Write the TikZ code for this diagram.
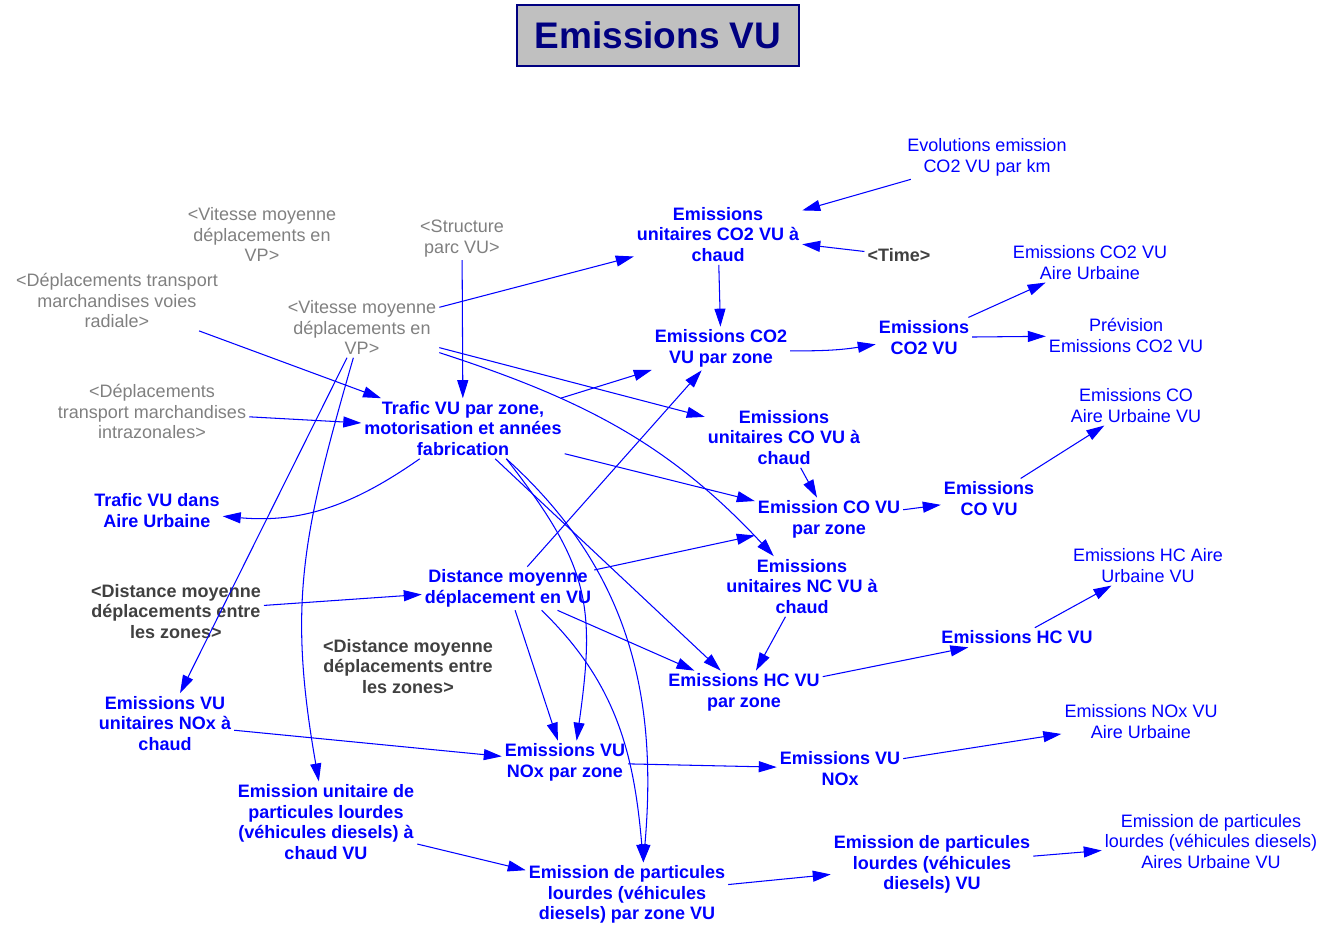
\documentclass[tikz,border=0pt]{standalone}
\usepackage{fontspec}
\setmainfont{Liberation Sans}
\usetikzlibrary{arrows.meta}
\definecolor{vblue}{RGB}{0,0,255}
\definecolor{shadowgray}{RGB}{128,128,128}
\definecolor{shadowdark}{RGB}{64,64,64}
\definecolor{titlenavy}{RGB}{0,0,128}
\definecolor{titlefill}{RGB}{192,192,192}

\begin{document}
\begin{tikzpicture}[x=1pt,y=-1pt,
  lbl/.style={align=center, inner sep=3pt, yshift=-1.5pt},
  var/.style={lbl, text=vblue, font=\fontsize{18}{20.5}\selectfont\bfseries},
  aux/.style={lbl, text=vblue, font=\fontsize{18}{20.5}\selectfont},
  ghost/.style={lbl, text=shadowgray, font=\fontsize{18}{20.5}\selectfont},
  ghostbold/.style={lbl, text=shadowdark, font=\fontsize{18}{20.5}\selectfont\bfseries},
  link/.style={draw=vblue, line width=1.05pt, -{Triangle[length=18pt,width=11pt]}},
  titlebox/.style={draw=titlenavy, line width=1.2pt, fill=titlefill,
    minimum width=282pt, minimum height=61pt, text=titlenavy,
    font=\fontsize{37}{40}\selectfont\bfseries}]

\useasboundingbox (0,0) rectangle (1324,925);

% title
\node[titlebox] (title) at (658,35.5) {Emissions VU};

% variables
\node[aux] (evol) at (987,156) {Evolutions emission\\CO2 VU par km};
\node[var] (uco2) at (718,233) {Emissions\\unitaires CO2 VU à\\chaud};
\node[ghostbold] (time) at (899,254) {\textless Time\textgreater};
\node[ghost] (vp1) at (262,233) {\textless Vitesse moyenne\\déplacements en\\VP\textgreater};
\node[ghost] (struct) at (462,237) {\textless Structure\\parc VU\textgreater};
\node[ghost] (radiale) at (117,299) {\textless Déplacements transport\\marchandises voies\\radiale\textgreater};
\node[ghost] (vp2) at (362,326) {\textless Vitesse moyenne\\déplacements en\\VP\textgreater};
\node[var] (pco2) at (721,347) {Emissions CO2\\VU par zone};
\node[var] (eco2) at (924,336) {Emissions\\CO2 VU};
\node[aux] (aco2) at (1090,261) {Emissions CO2 VU\\Aire Urbaine};
\node[aux] (prev) at (1126,334) {Prévision\\Emissions CO2 VU};
\node[ghost] (intra) at (152,410) {\textless Déplacements\\transport marchandises\\intrazonales\textgreater};
\node[var] (trafic) at (463,427) {Trafic VU par zone,\\motorisation et années\\fabrication};
\node[var] (uco) at (784,436) {Emissions\\unitaires CO VU à\\chaud};
\node[aux] (acoau) at (1136,404) {Emissions CO\\Aire Urbaine VU};
\node[var] (pco) at (829,518) {Emission CO VU\\par zone};
\node[var] (eco) at (989,497) {Emissions\\CO VU};
\node[var] (tvau) at (157,509) {Trafic VU dans\\Aire Urbaine};
\node[var] (unc) at (802,585) {Emissions\\unitaires NC VU à\\chaud};
\node[aux] (hcau) at (1148,564) {Emissions HC Aire\\Urbaine VU};
\node[ghostbold] (dleft) at (176,610) {\textless Distance moyenne\\déplacements entre\\les zones\textgreater};
\node[var] (dist) at (508,587) {Distance moyenne\\déplacement en VU};
\node[var] (ehc) at (1017,636) {Emissions HC VU};
\node[ghostbold] (dmid) at (408,665) {\textless Distance moyenne\\déplacements entre\\les zones\textgreater};
\node[var] (hcz) at (744,691) {Emissions HC VU\\par zone};
\node[var] (unox) at (165,722) {Emissions VU\\unitaires NOx à\\chaud};
\node[aux] (noxau) at (1141,720) {Emissions NOx VU\\Aire Urbaine};
\node[var] (noxz) at (565,761) {Emissions VU\\NOx par zone};
\node[var] (enox) at (840,767) {Emissions VU\\NOx};
\node[var] (upart) at (326,820.5) {Emission unitaire de\\particules lourdes\\(véhicules diesels) à\\chaud VU};
\node[var] (epart) at (932,863) {Emission de particules\\lourdes (véhicules\\diesels) VU};
\node[aux] (apart) at (1211,840) {Emission de particules\\lourdes (véhicules diesels)\\Aires Urbaine VU};
\node[var] (partz) at (627,893) {Emission de particules\\lourdes (véhicules\\diesels) par zone VU};

% CO2 chain
\draw[link] (evol) -- (uco2);
\draw[link] (time) -- (uco2);
\draw[link] (vp2) -- (uco2);
\draw[link] (uco2) -- (pco2);
\draw[link] (pco2) to[bend right=5] (eco2);
\draw[link] (eco2) -- (aco2);
\draw[link] (eco2) -- (prev);

% traffic
\draw[link] (struct) -- (trafic);
\draw[link] (radiale) -- (trafic);
\draw[link] (intra) -- (trafic);
\draw[link] (trafic) -- (pco2);
\draw[link] (trafic) to[out=215,in=-5] (tvau);
\draw[link] (trafic) -- (pco);
\draw[link] (trafic) -- (hcz);
\draw[link] (trafic.-35) to[out=-52,in=82,looseness=1.2] (noxz.62);
\draw[link] (trafic.-35) to[out=-42,in=85] (partz.63);

% speed
\draw[link] (vp2) -- (uco);
\draw[link] (vp2) to[out=-18,in=133] (unc);
\draw[link] (vp2) -- (unox);
\draw[link] (vp2) to[out=254,in=100,looseness=1.1] (upart);

% distance
\draw[link] (dleft) -- (dist);
\draw[link] (dist) -- (pco2);
\draw[link] (dist) -- (pco);
\draw[link] (dist) -- (hcz);
\draw[link] (dist) -- (noxz);
\draw[link] (dist.-33) to[out=-44,in=95] (partz.63);

% CO and HC
\draw[link] (uco) -- (pco);
\draw[link] (pco) -- (eco);
\draw[link] (eco) -- (acoau);
\draw[link] (unc) -- (hcz);
\draw[link] (hcz) -- (ehc);
\draw[link] (ehc) -- (hcau);

% NOx and particles
\draw[link] (unox) -- (noxz);
\draw[link] (noxz) -- (enox);
\draw[link] (enox) -- (noxau);
\draw[link] (upart) -- (partz);
\draw[link] (partz) -- (epart);
\draw[link] (epart) -- (apart);

\end{tikzpicture}
\end{document}
